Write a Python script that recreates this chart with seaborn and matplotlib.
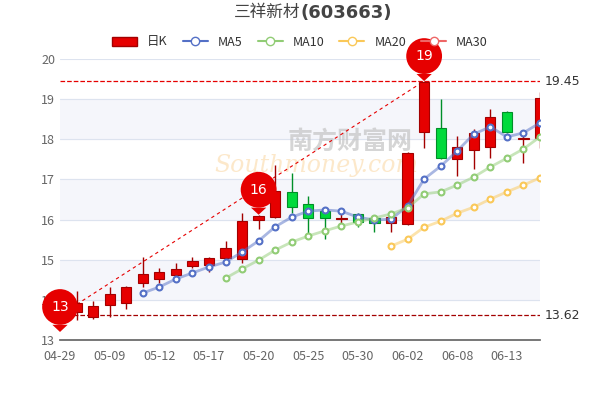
import matplotlib
matplotlib.use("Agg")
import matplotlib.pyplot as plt
import seaborn as sns
import pandas as pd
import numpy as np
from matplotlib.lines import Line2D
from matplotlib.patches import Patch

sns.set_theme(style="white")
plt.rcParams['font.family'] = ['Noto Sans CJK SC', 'DejaVu Sans']

dates = ["04-29","04-30","05-08","05-09","05-10","05-11","05-12","05-15","05-16","05-17",
         "05-18","05-19","05-20","05-23","05-24","05-25","05-26","05-29","05-30","05-31",
         "06-01","06-02","06-05","06-06","06-07","06-08","06-09","06-12","06-13","06-14"]
tick_labels = ["04-29","05-09","05-12","05-17","05-20","05-25","05-30","06-02","06-08","06-13"]
opens  = [13.65,13.70,13.57,13.87,13.92,14.42,14.52,14.62,14.84,14.87,15.04,15.02,15.99,16.06,16.69,16.39,16.22,16.02,16.14,16.04,15.92,15.89,18.18,18.28,17.51,17.73,17.81,18.68,18.01,18.03]
closes = [13.85,13.92,13.85,14.15,14.32,14.64,14.69,14.77,14.97,15.04,15.29,15.96,16.09,16.71,16.31,16.04,16.04,16.05,15.94,15.92,16.06,17.66,19.43,17.53,17.81,18.16,18.56,18.18,18.04,19.03]
highs  = [13.90,14.22,13.97,14.32,14.34,15.07,14.79,14.92,15.07,15.07,15.47,16.16,16.12,17.36,17.16,16.59,16.29,16.16,16.17,16.08,16.19,17.68,19.45,19.00,18.08,18.26,18.75,18.70,18.10,19.18]
lows   = [13.62,13.50,13.52,13.57,13.77,14.32,14.42,14.57,14.79,14.69,14.99,14.92,15.77,16.05,16.16,15.51,15.51,15.92,15.82,15.69,15.69,15.87,17.78,17.50,17.09,17.26,17.54,18.16,17.41,17.78]
ma5  = [None]*5 + [14.17,14.32,14.52,14.67,14.82,14.94,15.19,15.47,15.82,16.06,16.21,16.24,16.21,16.06,15.99,16.01,16.34,17.01,17.33,17.71,18.13,18.31,18.06,18.16,18.41]
ma10 = [None]*10 + [14.54,14.77,14.99,15.24,15.44,15.59,15.72,15.84,15.94,16.04,16.14,16.29,16.64,16.69,16.86,17.06,17.31,17.53,17.76,18.06]
ma20 = [None]*20 + [15.34,15.51,15.81,15.96,16.16,16.31,16.51,16.69,16.86,17.04]
max_price = 19.45
min_price = 13.62
pins = [(0, 13.2, "13"), (12, 16.12, "16"), (22, 19.45, "19")]

fig = plt.figure(figsize=(6, 4), dpi=100)
ax = fig.add_axes([0.1, 0.15, 0.8, 0.7025])
ax.set_xlim(0, 29)
ax.set_ylim(13, 20)

for i, lo in enumerate(range(13, 20)):
    if i % 2 == 1:
        ax.axhspan(lo, lo + 1, color="#f5f6fb", zorder=0)
    ax.axhline(lo + 1, color="#dde3ef", lw=0.8, zorder=0.5)

ax.text(17.5, 17.95, "南方财富网", fontsize=18, color="#c4c4c4", alpha=0.7, ha="center", va="center", zorder=1, weight="bold")
ax.text(15.5, 17.35, "Southmoney.com", fontsize=17, color="#fbd9a8", alpha=0.6, ha="center", va="center", style="italic", zorder=1, family="DejaVu Serif")

x = np.arange(len(dates))
for i in x:
    up = closes[i] >= opens[i]
    face = "#e60000" if up else "#00da3c"
    edge = "#a30000" if up else "#008f28"
    ax.vlines(i, lows[i], highs[i], color=edge, lw=1, zorder=3)
    b = min(opens[i], closes[i]); h = max(abs(closes[i] - opens[i]), 0.03)
    ax.bar(i, h, bottom=b, width=0.62, color=face, edgecolor=edge, lw=0.8, zorder=4)

df = pd.DataFrame({"x": x, "MA5": ma5, "MA10": ma10, "MA20": ma20})
ma_colors = {"MA5": "#5470c6", "MA10": "#91cc75", "MA20": "#fac858"}
for k, c in ma_colors.items():
    d = df.dropna(subset=[k])
    sns.lineplot(data=d, x="x", y=k, ax=ax, color=c, alpha=0.5, lw=2, zorder=5)
    ax.scatter(d["x"], d[k], s=18, facecolor="white", edgecolor=c, lw=1.5, zorder=6)

ax.axhline(max_price, color="#e60000", ls="--", lw=0.9, zorder=2)
ax.axhline(min_price, color="#a30000", ls="--", lw=0.9, zorder=2)
ax.plot([0, 22], [min_price, max_price], color="#e60000", ls=(0, (3, 3)), lw=0.8, zorder=2)
ax.text(1.01, (max_price - 13) / 7, f"{max_price:.2f}", transform=ax.transAxes, fontsize=9, color="#333", va="center", family="DejaVu Sans")
ax.text(1.01, (min_price - 13) / 7, f"{min_price:.2f}", transform=ax.transAxes, fontsize=9, color="#333", va="center", family="DejaVu Sans")

for xi, yi, lab in pins:
    ax.annotate(lab, (xi, yi), xytext=(0, 18), textcoords="offset points", ha="center", va="center",
                color="white", fontsize=10, family="DejaVu Sans", zorder=9, annotation_clip=False,
                bbox=dict(boxstyle="circle,pad=0.65", fc="#e60000", ec="none"),
                arrowprops=dict(arrowstyle="wedge,tail_width=1.1,shrink_factor=0.5", fc="#e60000", ec="none",
                                shrinkA=0, shrinkB=0))

ax.set_xticks(range(0, 30, 3))
ax.set_xticklabels(tick_labels)
ax.set_yticks(range(13, 21))
ax.tick_params(axis="both", labelsize=9, colors="#666", length=0)
ax.tick_params(axis="x", length=4, color="#666")
ax.set_xlabel(""); ax.set_ylabel("")
for s in ["top", "right", "left"]:
    ax.spines[s].set_visible(False)
ax.spines["bottom"].set_color("#666")

fig.text(0.5, 0.968, "三祥新材", fontsize=12, ha="right", va="center", color="#444")
fig.text(0.5, 0.968, "(603663)", fontsize=13, ha="left", va="center", color="#444", weight="bold", family="DejaVu Sans")

handles = [Patch(fc="#e60000", ec="#a30000"),
           Line2D([], [], color="#5470c6", marker="o", mfc="white", lw=1.5),
           Line2D([], [], color="#91cc75", marker="o", mfc="white", lw=1.5),
           Line2D([], [], color="#fac858", marker="o", mfc="white", lw=1.5),
           Line2D([], [], color="#ee6666", marker="o", mfc="white", lw=1.5)]
fig.legend(handles, ["日K", "MA5", "MA10", "MA20", "MA30"], loc="center", bbox_to_anchor=(0.5, 0.895),
           ncol=5, frameon=False, fontsize=9, handlelength=2, columnspacing=1.2, labelcolor="#333")

fig.savefig("out.png", dpi=100)
